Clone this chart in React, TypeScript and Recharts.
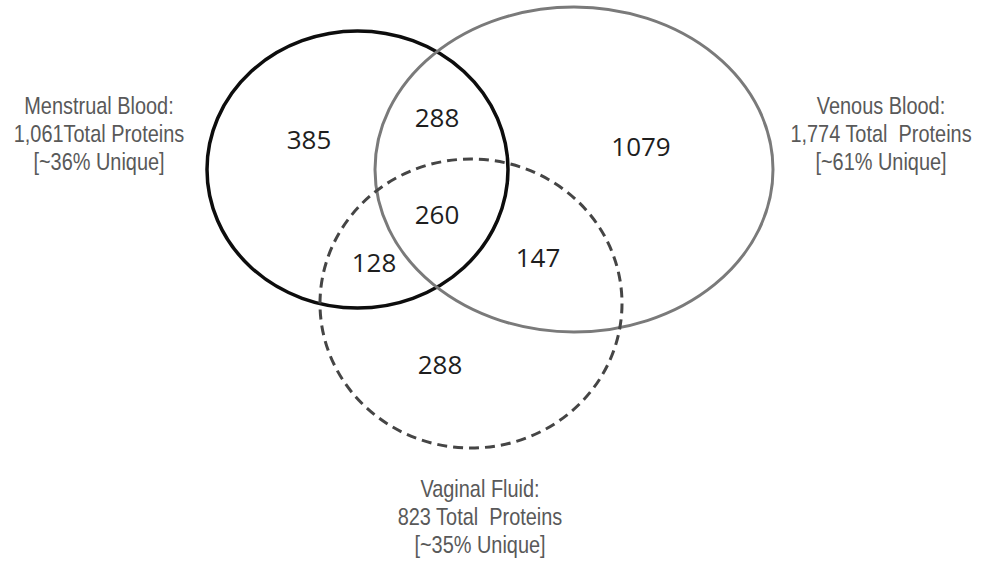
import React from 'react';
import { ScatterChart, Scatter, XAxis, YAxis } from 'recharts';

const W = 988;
const H = 562;

// sets: centre and radii in chart units (x: 0..988, y: 0..562 top-down)
const setNames = ['Menstrual Blood', 'Venous Blood', 'Vaginal Fluid'];
const setCx = [357.5, 574, 471];
const setCy = [169.5, 169.5, 303.5];
const setRx = [150.5, 199, 151];
const setRy = [138.5, 162.5, 144.5];

const setTitles = ['Menstrual Blood:', 'Venous Blood:', 'Vaginal Fluid:'];
const setTotals = ['1,061Total Proteins', '1,774 Total  Proteins', '823 Total  Proteins'];
const setUnique = ['[~36% Unique]', '[~61% Unique]', '[~35% Unique]'];
const titleX = [99, 881, 480];
const titleY = [114, 114, 497];

// region counts
const regionCounts = [385, 288, 1079, 260, 128, 147, 288];
const regionX = [309, 437, 641, 437, 374, 538, 440];
const regionY = [139, 117, 146, 214, 262, 257, 364];

const ellipseData = setNames.map((name, i) => ({
  name, x: setCx[i], y: setCy[i], rx: setRx[i], ry: setRy[i], idx: i,
}));
const countData = regionCounts.map((v, i) => ({ x: regionX[i], y: regionY[i], value: v }));
const titleData = setTitles.map((t, i) => ({
  x: titleX[i], y: titleY[i], lines: [t, setTotals[i], setUnique[i]],
}));

const ellipseStyle = [
  { stroke: '#0d0d0d', strokeWidth: 3.5, dash: undefined },
  { stroke: '#7a7a7a', strokeWidth: 3, dash: undefined },
  { stroke: '#454545', strokeWidth: 3, dash: '10 6' },
];

const PX = W / 988; // px per unit (x)
const PY = H / 562; // px per unit (y)

const EllipseShape = (props: any) => {
  const { cx, cy, payload } = props;
  const s = ellipseStyle[payload.idx];
  return (
    <ellipse
      cx={cx}
      cy={cy}
      rx={payload.rx * PX}
      ry={payload.ry * PY}
      fill="none"
      stroke={s.stroke}
      strokeWidth={s.strokeWidth}
      strokeDasharray={s.dash}
    />
  );
};

const CountShape = (props: any) => {
  const { cx, cy, payload } = props;
  return (
    <text
      x={cx}
      y={cy}
      textAnchor="middle"
      dominantBaseline="central"
      fontFamily="'Open Sans', 'Noto Sans', sans-serif"
      fontSize={26}
      fill="#1e1e1e"
    >
      {payload.value}
    </text>
  );
};

const TitleShape = (props: any) => {
  const { cx, cy, payload } = props;
  return (
    <g>
      {payload.lines.map((line: string, i: number) => (
        <text
          key={i}
          transform={`translate(${cx},${cy + i * 28}) scale(0.83,1)`}
          textAnchor="middle"
          fontFamily="'Liberation Sans', Arial, sans-serif"
          fontSize={24}
          fill="#595959"
          style={{ whiteSpace: 'pre' }}
        >
          {line}
        </text>
      ))}
    </g>
  );
};

export default function App() {
  return (
    <div style={{ position: 'absolute', left: 0, top: 0, width: W, height: H, background: '#fff' }}>
      <ScatterChart width={W} height={H} margin={{ top: 0, right: 0, bottom: 0, left: 0 }}>
        <XAxis type="number" dataKey="x" domain={[0, 988]} hide />
        <YAxis type="number" dataKey="y" domain={[0, 562]} reversed hide />
        <Scatter data={ellipseData} shape={EllipseShape} isAnimationActive={false} />
        <Scatter data={countData} shape={CountShape} isAnimationActive={false} />
        <Scatter data={titleData} shape={TitleShape} isAnimationActive={false} />
      </ScatterChart>
    </div>
  );
}
